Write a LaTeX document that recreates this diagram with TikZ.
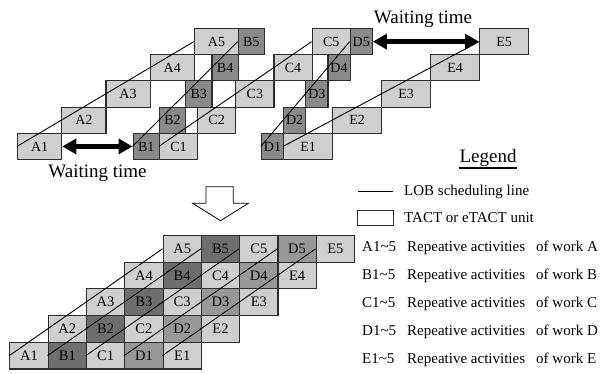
\documentclass[tikz,border=0pt]{standalone}
\usepackage{fontspec}
\setmainfont{Liberation Serif}
\usetikzlibrary{arrows.meta}
\definecolor{lightc}{RGB}{207,207,207}
\definecolor{darkc}{RGB}{138,138,138}
\definecolor{bdark}{RGB}{110,110,110}
\definecolor{dmid}{RGB}{152,152,152}
\definecolor{bordc}{RGB}{45,45,45}
\begin{document}
\begin{tikzpicture}[x=1pt,y=-1pt,
  cell/.style={draw=bordc, line width=1.1pt, minimum height=26.2pt, inner sep=0pt,
    anchor=north west, font=\fontsize{14}{16}\selectfont},
  bcell/.style={draw=bordc, line width=1.1pt, minimum height=26.7pt, minimum width=38.3pt,
    inner sep=0pt, anchor=north west, font=\fontsize{14.5}{16}\selectfont},
  lob/.style={line width=0.9pt, black},
  wait/.style={line width=4.5pt, {Triangle[length=14pt,width=15pt]}-{Triangle[length=14pt,width=15pt]}},
  wtext/.style={font=\fontsize{19}{22}\selectfont, inner sep=0pt, anchor=base},
  ltext/.style={font=\fontsize{15}{18}\selectfont, inner sep=0pt, anchor=base west},
  hollow/.style={draw=black, line width=0.8pt, fill=white, line join=miter}
]
\useasboundingbox (0,0) rectangle (602,374);

% ---------- top diagram ----------
\foreach \w/\xo/\ww/\cc in {A/17/44.2/lightc, B/132.5/26.3/darkc, C/158.8/38.2/lightc, D/260.8/22.2/darkc, E/283/49/lightc}{
  \foreach \i in {1,...,5}{
    \node[cell, fill=\cc, minimum width=\ww pt] (\w\i) at ({\xo+\ww*(\i-1)}, {159-26.2*\i}) {\w\i};
  }
}
\foreach \w in {A,B,C,D,E}{
  \draw[lob] (\w1.west) -- (\w5.west);
}
\draw[wait] (D5.east) -- (E5.west);
\draw[wait] (A1.east) -- (B1.west);
\node[wtext] (wt1) at (423,24) {Waiting time};
\node[wtext] (wt2) at (97.5,178) {Waiting time};

% ---------- hollow down arrow ----------
\draw[hollow] (206,186.7) -- (233.3,186.7) -- (233.3,203.3) -- (248.3,203.3)
  -- (220.5,220.7) -- (192.7,203.3) -- (206,203.3) -- cycle;

% ---------- bottom diagram ----------
\foreach \w/\j/\cc in {A/0/lightc, B/1/bdark, C/2/lightc, D/3/dmid, E/4/lightc}{
  \foreach \i in {1,...,5}{
    \node[bcell, fill=\cc] (b\w\i) at ({9.3+38.3*(\j+\i-1)}, {368.4-26.7*\i}) {\w\i};
  }
}
\foreach \w in {A,B,C,D,E}{
  \draw[lob] (b\w1.west) -- (b\w5.west);
}

% ---------- legend ----------
\node[wtext] (leg) at (488,163) {Legend};
\draw[line width=1.6pt] ([yshift=-1pt]leg.south west) -- ([yshift=-1pt]leg.south east);
\coordinate (l1) at (358,191);
\coordinate (l2) at (392.5,191);
\draw[lob] (l1) -- (l2);
\node[ltext] (lobt) at (404,196) {LOB scheduling line};
\node[draw=bordc, line width=1pt, minimum width=36pt, minimum height=15pt, inner sep=0pt,
  anchor=north west] (trect) at (357,210) {};
\node[ltext] (tactt) at (404,222.5) {TACT or eTACT unit};
\foreach \w/\yy in {A/251, B/279, C/307, D/335, E/363}{
  \node[ltext] (k\w) at (362,\yy) {\w1\textasciitilde5};
  \node[ltext] (r\w) at (407,\yy) {Repeative activities};
  \node[ltext] (o\w) at (536,\yy) {of work \w};
}
\end{tikzpicture}
\end{document}
